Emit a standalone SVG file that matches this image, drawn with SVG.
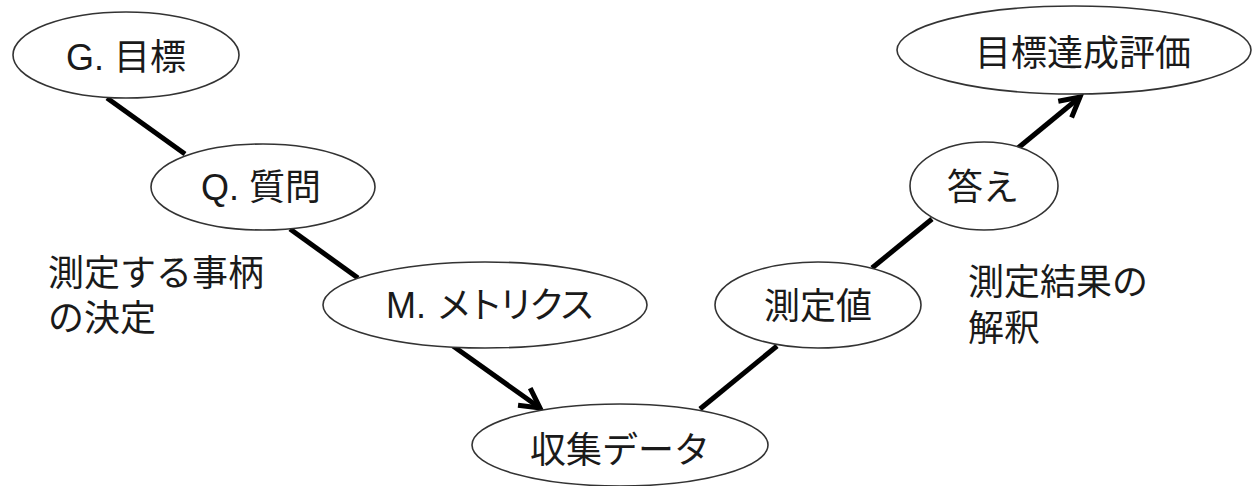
<svg xmlns="http://www.w3.org/2000/svg" width="1252" height="486" viewBox="0 0 1252 486">
<style>
.node ellipse{fill:#fff;stroke:#333;stroke-width:1.6}
text{font-family:"Liberation Sans","Noto Sans CJK JP",sans-serif;font-size:36px;fill:#1a1a1a}
.c{text-anchor:middle}
.edge{stroke:#000;stroke-width:5;fill:none}
</style>
<defs>
<marker id="arrow" markerUnits="userSpaceOnUse" markerWidth="40" markerHeight="40" viewBox="-30 -20 40 40" refX="0" refY="0" orient="auto">
<path d="M-19.5,-10.5 L0,0 L-19.5,10.5" fill="none" stroke="#000" stroke-width="5" stroke-linejoin="miter"/>
</marker>
</defs>
<rect width="1252" height="486" fill="#fff"/>
<g id="connectors">
<line class="edge" x1="107" y1="98" x2="185" y2="154"/>
<line class="edge" x1="290" y1="229" x2="358" y2="278"/>
<line class="edge" x1="453" y1="346" x2="540" y2="408" marker-end="url(#arrow)"/>
<line class="edge" x1="700" y1="409" x2="777" y2="346"/>
<line class="edge" x1="872" y1="268" x2="932" y2="219"/>
<line class="edge" x1="1018" y1="148" x2="1080" y2="97" marker-end="url(#arrow)"/>
</g>
<g id="goal" class="node"><ellipse cx="126" cy="55" rx="113" ry="43"/><text class="c" x="126" y="70">G. 目標</text></g>
<g id="question" class="node"><ellipse cx="263" cy="187" rx="112" ry="43"/><text class="c" x="261" y="200">Q. 質問</text></g>
<g id="metrics" class="node"><ellipse cx="485" cy="305" rx="162" ry="43"/><text x="386" y="318">M. <tspan letter-spacing="-5">メトリクス</tspan></text></g>
<g id="data" class="node"><ellipse cx="620" cy="445" rx="148" ry="41"/><text class="c" x="620" y="463">収集データ</text></g>
<g id="measured" class="node"><ellipse cx="818" cy="305" rx="103" ry="43"/><text class="c" x="818" y="319">測定値</text></g>
<g id="answer" class="node"><ellipse cx="984" cy="186" rx="74" ry="44"/><text class="c" x="983" y="200">答え</text></g>
<g id="evaluation" class="node"><ellipse cx="1074" cy="50" rx="177" ry="44"/><text class="c" x="1083" y="66">目標達成評価</text></g>
<g id="label-left"><text x="48" y="286">測定する事柄</text><text x="48" y="331">の決定</text></g>
<g id="label-right"><text x="968" y="295">測定結果の</text><text x="968" y="341">解釈</text></g>
</svg>
